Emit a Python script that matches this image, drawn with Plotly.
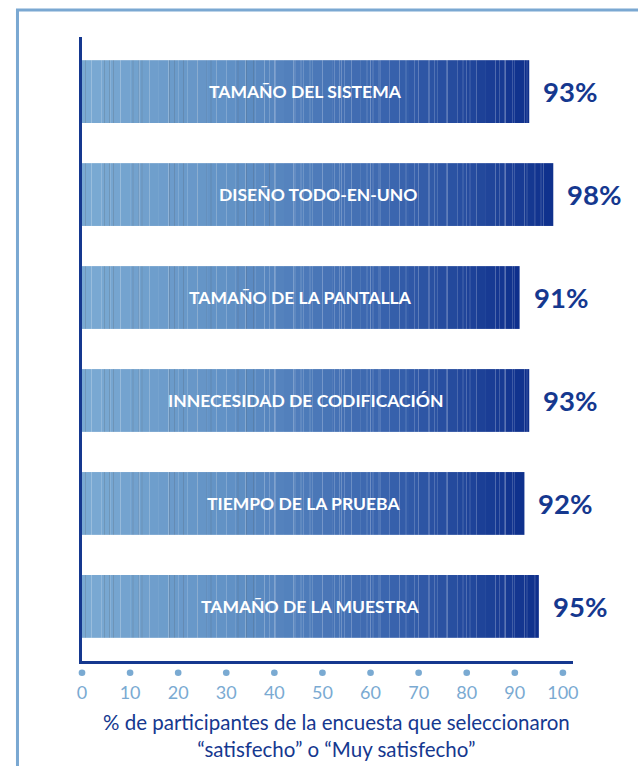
import plotly.graph_objects as go

categories = ["TAMAÑO DEL SISTEMA", "DISEÑO TODO-EN-UNO", "TAMAÑO DE LA PANTALLA",
              "INNECESIDAD DE CODIFICACIÓN", "TIEMPO DE LA PRUEBA", "TAMAÑO DE LA MUESTRA"]
values = [93, 98, 91, 93, 92, 95]
value_labels = ["93%", "98%", "91%", "93%", "92%", "95%"]
tick_vals = [0, 10, 20, 30, 40, 50, 60, 70, 80, 90, 100]
axis_title = "% de participantes de la encuesta que seleccionaron<br>“satisfecho” o “Muy satisfecho”"

NAVY = "#15388f"
LIGHT = "#7aaad2"
X_MAX = 102.1

stops = [(0.0, (124, 171, 211)), (0.35, (95, 143, 196)), (0.7, (55, 97, 172)), (1.0, (14, 47, 140))]


def grad(f):
    f = max(0.0, min(1.0, f))
    for (a, ca), (b, cb) in zip(stops[:-1], stops[1:]):
        if f <= b:
            t = (f - a) / (b - a)
            c = [round(ca[j] + (cb[j] - ca[j]) * t) for j in range(3)]
            return f"rgb({c[0]},{c[1]},{c[2]})"
    c = stops[-1][1]
    return f"rgb({c[0]},{c[1]},{c[2]})"


fig = go.Figure()

SEG = 2
n_seg = int(max(values) / SEG) + 1
pattern_sizes = [7, 0, 5, 9, 0, 6, 8, 0, 0, 5, 7, 0, 10, 6, 0, 0, 8]
for k in range(n_seg):
    base = k * SEG
    widths = [max(0, min(SEG, v - base)) for v in values]
    if not any(widths):
        continue
    colors = [grad((base + SEG / 2) / v) for v in values]
    ps = pattern_sizes[k % len(pattern_sizes)]
    pattern = dict(shape="|", size=ps, solidity=1.0 / ps, fillmode="overlay",
                   fgcolor="white", fgopacity=0.18) if ps else dict(shape="")
    fig.add_trace(go.Bar(
        y=categories, x=widths, base=[base] * len(values), orientation="h",
        marker=dict(color=colors, line=dict(width=0), pattern=pattern),
        hoverinfo="skip", showlegend=False,
    ))

for cat, v, lab in zip(categories, values, value_labels):
    fig.add_annotation(x=v / 2, y=cat, text=f"<b>{cat}</b>", showarrow=False,
                       font=dict(family="Lato", size=17.5, color="white"))
    fig.add_annotation(x=v, y=cat, text=f"<b>{lab}</b>", showarrow=False, xanchor="left",
                       xshift=12, font=dict(family="Lato", size=27.5, color=NAVY))

# dots under ticks
for t in tick_vals:
    cx = t / X_MAX
    fig.add_shape(type="circle", xref="paper", yref="paper", x0=cx - 0.0068, x1=cx + 0.0068,
                  y0=-0.0188 - 0.0052, y1=-0.0188 + 0.0052,
                  fillcolor=LIGHT, line=dict(width=0))

# frame
fig.add_shape(type="rect", xref="paper", yref="paper", x0=-0.1314, x1=1.3, y0=-0.3, y1=1.0433,
              line=dict(color="#7aa8d2", width=3), layer="below")

fig.add_annotation(xref="paper", yref="paper", x=0.519, y=-0.1195, yanchor="middle",
                   text=axis_title, showarrow=False,
                   font=dict(family="Lato", size=20.5, color=NAVY))

fig.update_layout(
    width=638, height=766, margin=dict(l=82, r=65, t=37, b=105),
    paper_bgcolor="white", plot_bgcolor="white",
    barmode="overlay", bargap=0.39,
    xaxis=dict(range=[0, X_MAX], tickvals=tick_vals, showgrid=False, zeroline=False,
               showline=True, linecolor=NAVY, linewidth=2.5,
               ticks="outside", ticklen=14, tickcolor="rgba(0,0,0,0)",
               tickfont=dict(family="Lato", size=18, color=LIGHT)),
    yaxis=dict(range=[5.53, -0.53], showticklabels=False, showgrid=False, zeroline=False,
               showline=True, linecolor=NAVY, linewidth=3, ticks=""),
)

fig.write_html("out.html", config={"displayModeBar": False},
               post_script="document.body.style.margin='0';document.body.style.overflow='hidden';")
